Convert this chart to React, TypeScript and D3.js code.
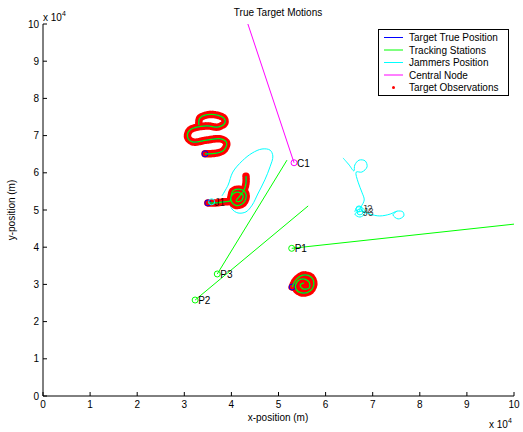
import React from "react";
import * as d3 from "d3";

// ---- data (units of 1e4 m) ----
const xTicks = [0, 1, 2, 3, 4, 5, 6, 7, 8, 9, 10];
const yTicks = [0, 1, 2, 3, 4, 5, 6, 7, 8, 9, 10];

const target1X = [3.44, 3.69, 3.84, 3.90, 3.78, 3.48, 3.18, 3.07, 3.12, 3.48, 3.71, 3.86, 3.84, 3.57, 3.33, 3.31];
const target1Y = [6.51, 6.53, 6.61, 6.80, 6.91, 6.88, 6.83, 6.96, 7.15, 7.26, 7.23, 7.34, 7.47, 7.57, 7.47, 7.28];

const target2X = [3.50, 3.67, 3.84, 3.97, 3.99, 4.03, 4.16, 4.29, 4.31, 4.23, 4.08, 3.99, 4.03, 4.14, 4.25, 4.20, 4.10, 4.18, 4.27, 4.31, 4.31];
const target2Y = [5.19, 5.19, 5.22, 5.24, 5.35, 5.51, 5.56, 5.48, 5.32, 5.16, 5.13, 5.27, 5.43, 5.48, 5.38, 5.24, 5.24, 5.38, 5.54, 5.73, 5.91];

const target3X = [5.29, 5.37, 5.52, 5.69, 5.75, 5.67, 5.50, 5.37, 5.39, 5.52, 5.65, 5.65, 5.52, 5.46, 5.54];
const target3Y = [2.93, 3.12, 3.25, 3.20, 3.01, 2.82, 2.77, 2.88, 3.06, 3.15, 3.06, 2.90, 2.88, 2.98, 3.04];

const jammer1X = [3.80, 3.93, 4.03, 4.23, 4.44, 4.65, 4.82, 4.88, 4.82, 4.71, 4.56, 4.44, 4.31, 4.14, 4.01, 3.97];
const jammer1Y = [5.38, 5.67, 6.02, 6.32, 6.53, 6.64, 6.61, 6.45, 6.16, 5.81, 5.43, 5.13, 4.95, 4.92, 5.03, 5.19];

const jammer2X = [6.37, 6.50, 6.60, 6.62, 6.71, 6.84, 6.88, 6.77, 6.65, 6.69, 6.77, 6.82, 6.75, 6.71];
const jammer2Y = [6.40, 6.21, 6.05, 6.21, 6.34, 6.32, 6.16, 6.02, 6.02, 5.75, 5.48, 5.27, 5.08, 4.97];

const jammer3X = [6.62, 6.67, 6.79, 6.84, 6.73, 6.62, 6.77, 6.94, 7.15, 7.37, 7.52, 7.64, 7.66, 7.54, 7.43, 7.52];
const jammer3Y = [4.95, 5.08, 5.05, 4.92, 4.81, 4.89, 4.97, 4.89, 4.84, 4.89, 4.97, 4.95, 4.84, 4.76, 4.87, 4.97];

const stationNames = ["P1", "P2", "P3"];
const stationX = [5.28, 3.23, 3.70];
const stationY = [3.97, 2.58, 3.28];
const beamEndX = [10.0, 5.63, 5.18];
const beamEndY = [4.62, 5.11, 6.34];

const centralName = "C1";
const centralX = 5.33;
const centralY = 6.27;
const centralLinkX = 4.35;
const centralLinkY = 10.0;

const jammerNames = ["J1", "J2", "J3"];
const jammerPosX = [3.58, 6.71, 6.73];
const jammerPosY = [5.22, 5.03, 4.95];

const legendLabels = ["Target True Position", "Tracking Stations", "Jammers Position", "Central Node", "Target Observations"];
const legendColors = ["#0000ff", "#00ff00", "#00ffff", "#ff00ff", "#ff0000"];

const FONT = "'Liberation Sans', Arial, Helvetica, sans-serif";

export default function App() {
  const W = 523, H = 432;
  const x = d3.scaleLinear().domain([0, 10]).range([43, 514]);
  const y = d3.scaleLinear().domain([0, 10]).range([396, 24]);

  const toPts = (xs: number[], ys: number[]) => xs.map((v, i) => [v, ys[i]] as [number, number]);
  const smooth = d3.line<[number, number]>().x(d => x(d[0])).y(d => y(d[1])).curve(d3.curveCatmullRom.alpha(0.5));
  const straight = d3.line<[number, number]>().x(d => x(d[0])).y(d => y(d[1]));

  const targets = [toPts(target1X, target1Y), toPts(target2X, target2Y), toPts(target3X, target3Y)];
  const jammers = [toPts(jammer1X, jammer1Y), toPts(jammer2X, jammer2Y), toPts(jammer3X, jammer3Y)];

  return (
    <svg width={W} height={H} style={{ position: "absolute", left: 0, top: 0, background: "#fff" }} fontFamily={FONT}>
      <rect x={0} y={0} width={W} height={H} fill="#fff" />
      <defs>
        <clipPath id="plotclip">
          <rect x={x(0)} y={y(10)} width={x(10) - x(0)} height={y(0) - y(10)} />
        </clipPath>
      </defs>

      <g clipPath="url(#plotclip)">
        {/* jammer tracks */}
        {jammers.map((p, i) => (
          <path key={"j" + i} d={smooth(p) || ""} fill="none" stroke="#00ffff" strokeWidth={1} />
        ))}
        {/* tracking station beams */}
        {stationX.map((sx, i) => (
          <path key={"b" + i} d={straight([[sx, stationY[i]], [beamEndX[i], beamEndY[i]]]) || ""} fill="none" stroke="#00ff00" strokeWidth={1} />
        ))}
        {/* central node link */}
        <path d={straight([[centralX, centralY], [centralLinkX, centralLinkY]]) || ""} fill="none" stroke="#ff00ff" strokeWidth={1} />

        {/* observations (red band of dots) */}
        {targets.map((p, i) => (
          <g key={"o" + i}>
            <path d={smooth(p) || ""} fill="none" stroke="#ff0000" strokeWidth={7.5} strokeLinejoin="round" strokeLinecap="round" strokeDasharray="1.2 1.3" />
            <path d={smooth(p) || ""} fill="none" stroke="#ff0000" strokeWidth={4} strokeLinejoin="round" strokeLinecap="round" />
          </g>
        ))}
        {/* true positions */}
        {targets.map((p, i) => (
          <g key={"t" + i}>
            <path d={smooth(p) || ""} fill="none" stroke="#0000ff" strokeWidth={1} />
            <circle cx={x(p[0][0])} cy={y(p[0][1])} r={3} fill="none" stroke="#0000ff" strokeWidth={1} />
          </g>
        ))}
        {/* estimated tracks */}
        {targets.map((p, i) => (
          <path key={"g" + i} d={smooth(p) || ""} fill="none" stroke="#00ff00" strokeWidth={1.3} />
        ))}

        {/* stations */}
        {stationX.map((sx, i) => (
          <g key={"s" + i}>
            <circle cx={x(sx)} cy={y(stationY[i])} r={3} fill="none" stroke="#00ff00" strokeWidth={1} />
            <text x={x(sx) + 3} y={y(stationY[i]) + 4} fontSize={10} fill="#000">{stationNames[i]}</text>
          </g>
        ))}
        {/* central */}
        <circle cx={x(centralX)} cy={y(centralY)} r={3} fill="none" stroke="#ff00ff" strokeWidth={1} />
        <text x={x(centralX) + 3} y={y(centralY) + 4} fontSize={10} fill="#000">{centralName}</text>
        {/* jammers */}
        {jammerPosX.map((jx, i) => (
          <g key={"jp" + i}>
            <circle cx={x(jx)} cy={y(jammerPosY[i])} r={3} fill="none" stroke="#00ffff" strokeWidth={1} />
            <text x={x(jx) + 3} y={y(jammerPosY[i]) + 4} fontSize={10} fill="#000" fillOpacity={0.75}>{jammerNames[i]}</text>
          </g>
        ))}
      </g>

      {/* axes */}
      <line x1={x(0)} x2={x(10)} y1={y(0)} y2={y(0)} stroke="#000" strokeWidth={1} />
      <line x1={x(0)} x2={x(0)} y1={y(0)} y2={y(10)} stroke="#000" strokeWidth={1} />
      {xTicks.map(t => (
        <g key={"xt" + t}>
          <line x1={x(t)} x2={x(t)} y1={y(0)} y2={y(0) - 4} stroke="#000" />
          <text x={x(t)} y={408} fontSize={10} textAnchor="middle">{t}</text>
        </g>
      ))}
      {yTicks.map(t => (
        <g key={"yt" + t}>
          <line x1={x(0)} x2={x(0) + 4} y1={y(t)} y2={y(t)} stroke="#000" />
          <text x={39} y={y(t) + 3.5} fontSize={10} textAnchor="end">{t}</text>
        </g>
      ))}

      {/* exponents */}
      <text x={43} y={21} fontSize={10}>x 10<tspan dy={-5} fontSize={7}>4</tspan></text>
      <text x={489} y={428} fontSize={10}>x 10<tspan dy={-5} fontSize={7}>4</tspan></text>

      {/* title and labels */}
      <text x={278} y={16} fontSize={10} textAnchor="middle">True Target Motions</text>
      <text x={278} y={421} fontSize={10} textAnchor="middle">x-position (m)</text>
      <text transform="translate(15,210) rotate(-90)" fontSize={10} textAnchor="middle">y-position (m)</text>

      {/* legend */}
      <rect x={378.5} y={29.5} width={130} height={66} fill="#fff" stroke="#000" strokeWidth={1} />
      {legendLabels.map((lab, i) => {
        const ly = 37.5 + i * 12.5;
        return (
          <g key={"lg" + i}>
            {i < 4 ? (
              <line x1={384} x2={403} y1={ly} y2={ly} stroke={legendColors[i]} strokeWidth={1} />
            ) : (
              <circle cx={393.5} cy={ly} r={1.5} fill={legendColors[i]} />
            )}
            <text x={409} y={ly + 3.5} fontSize={10}>{lab}</text>
          </g>
        );
      })}
    </svg>
  );
}
